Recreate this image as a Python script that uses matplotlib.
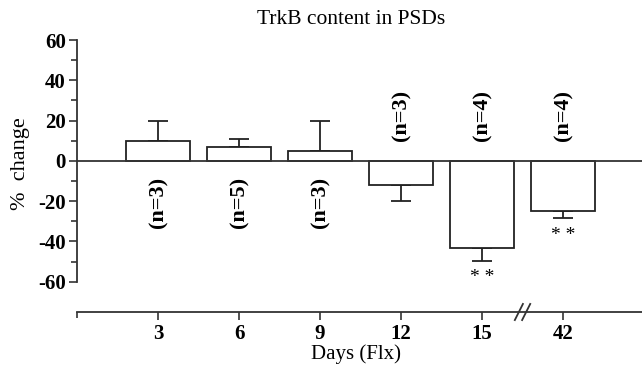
import numpy as np
import matplotlib.pyplot as plt

plt.rcParams['font.family'] = ['Liberation Serif', 'DejaVu Serif']
plt.rcParams['axes.unicode_minus'] = False

days = ['3', '6', '9', '12', '15', '42']
change = [10, 7, 5, -12, -43, -25]
sem = [10, 4, 15, 8, 6.5, 3.5]
n_labels = ['(n=3)', '(n=5)', '(n=3)', '(n=3)', '(n=4)', '(n=4)']
stars = ['', '', '', '', '* *', '* *']

fig = plt.figure(figsize=(6.42, 3.72), dpi=100)
ax = fig.add_axes([77/642, 1-312/372, 1-77/642, (312-40)/372])

x = np.arange(1, len(days)+1)
ax.bar(x, change, width=0.8, color='white', edgecolor='#222222', linewidth=1.3, zorder=2)

lo = [s if v < 0 else 0 for v, s in zip(change, sem)]
hi = [s if v >= 0 else 0 for v, s in zip(change, sem)]
ax.errorbar(x, change, yerr=[lo, hi], fmt='none', ecolor='#222222', elinewidth=1.3,
            capsize=7, capthick=1.3, zorder=1)

ax.axhline(0, color='#333333', linewidth=1.3, zorder=3)

for xi, v, s, lab, st in zip(x, change, sem, n_labels, stars):
    ypos = -20.5 if v >= 0 else 22.5
    ax.text(xi, ypos, lab, rotation=90, ha='center', va='center',
            fontsize=16, fontweight='bold')
    if st:
        ax.text(xi, v - s - 8.5, st, ha='center', va='center', fontsize=14)

ax.set_xlim(0, 6.975)
ax.set_ylim(-75, 60)
ax.spines['left'].set_bounds(-60, 60)
ax.spines['top'].set_visible(False)
ax.spines['right'].set_visible(False)
for sp in ['left', 'bottom']:
    ax.spines[sp].set_linewidth(1.3)
    ax.spines[sp].set_color('#333333')

ax.set_yticks(np.arange(-60, 61, 20))
ax.set_yticks(np.arange(-50, 60, 20), minor=True)
ax.set_xticks(list(x))
ax.set_xticks([0], minor=True)
ax.set_xticklabels(days)
ax.tick_params(axis='both', which='major', length=6, width=1.2, labelsize=15,
               color='#333333', pad=2)
ax.tick_params(axis='both', which='minor', length=4, width=1.2, color='#333333')
ax.tick_params(axis='x', pad=2.5)
for t in ax.get_xticklabels() + ax.get_yticklabels():
    t.set_fontweight('bold')

# axis break marks between 15 and 42
xb = (x[4] + x[5]) / 2
for dx in (-0.045, 0.045):
    ax.plot([xb + dx - 0.05, xb + dx + 0.05], [-79, -71], color='#333333',
            linewidth=1.3, clip_on=False, zorder=4)

ax.set_ylabel('%  change', fontsize=16, va='center')
ax.yaxis.set_label_coords(-(77 - 21) / 565, 1 - (164 - 40) / 272)
ax.set_xlabel('Days (Flx)', fontsize=15, va='center')
ax.xaxis.set_label_coords((356 - 77) / 565, -(354 - 312) / 272)
fig.text(351/642, 1-20/372, 'TrkB content in PSDs', ha='center', va='center', fontsize=15.5)

fig.savefig('out.png', dpi=100)
